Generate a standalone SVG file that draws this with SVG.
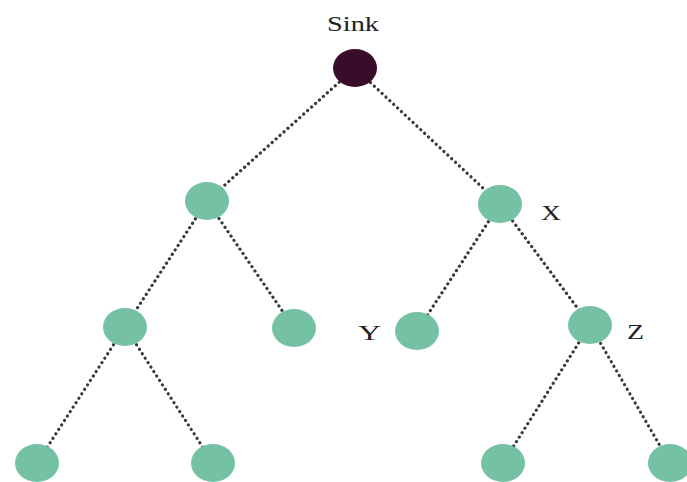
<svg xmlns="http://www.w3.org/2000/svg" width="687" height="482" viewBox="0 0 687 482">
<style>
.e{stroke:#3a3a3a;stroke-width:3.2;stroke-dasharray:0.1 5.2;stroke-linecap:round;fill:none}
.n{fill:#74c2a3}
.s{fill:#3b0b2b}
.t{font-family:"Liberation Serif","Times New Roman",serif;font-size:22px;fill:#222222}
</style>
<rect width="687" height="482" fill="#ffffff"/>
<g id="connectors">
<line class="e" x1="355" y1="68" x2="207" y2="201"/>
<line class="e" x1="355" y1="68" x2="500" y2="204"/>
<line class="e" x1="207" y1="201" x2="125" y2="327"/>
<line class="e" x1="207" y1="201" x2="294" y2="328"/>
<line class="e" x1="500" y1="204" x2="417" y2="331"/>
<line class="e" x1="500" y1="204" x2="590" y2="325"/>
<line class="e" x1="125" y1="327" x2="37" y2="463"/>
<line class="e" x1="125" y1="327" x2="213" y2="463"/>
<line class="e" x1="590" y1="325" x2="503" y2="463"/>
<line class="e" x1="590" y1="325" x2="670" y2="463"/>
</g>
<g id="sink"><ellipse class="s" cx="355" cy="68" rx="22" ry="19"/><text class="t" x="327" y="31" textLength="52" lengthAdjust="spacingAndGlyphs">Sink</text></g>
<g id="a"><ellipse class="n" cx="207" cy="201" rx="22" ry="19"/></g>
<g id="x"><ellipse class="n" cx="500" cy="204" rx="22" ry="19"/><text class="t" x="541" y="220" textLength="20" lengthAdjust="spacingAndGlyphs">X</text></g>
<g id="b"><ellipse class="n" cx="125" cy="327" rx="22" ry="19"/></g>
<g id="c"><ellipse class="n" cx="294" cy="328" rx="22" ry="19"/></g>
<g id="y"><ellipse class="n" cx="417" cy="331" rx="22" ry="19"/><text class="t" x="358" y="340" textLength="23" lengthAdjust="spacingAndGlyphs">Y</text></g>
<g id="z"><ellipse class="n" cx="590" cy="325" rx="22" ry="19"/><text class="t" x="627" y="339" textLength="17" lengthAdjust="spacingAndGlyphs">Z</text></g>
<g id="d"><ellipse class="n" cx="37" cy="463" rx="22" ry="19"/></g>
<g id="e"><ellipse class="n" cx="213" cy="463" rx="22" ry="19"/></g>
<g id="f"><ellipse class="n" cx="503" cy="463" rx="22" ry="19"/></g>
<g id="g"><ellipse class="n" cx="670" cy="463" rx="22" ry="19"/></g>
</svg>
